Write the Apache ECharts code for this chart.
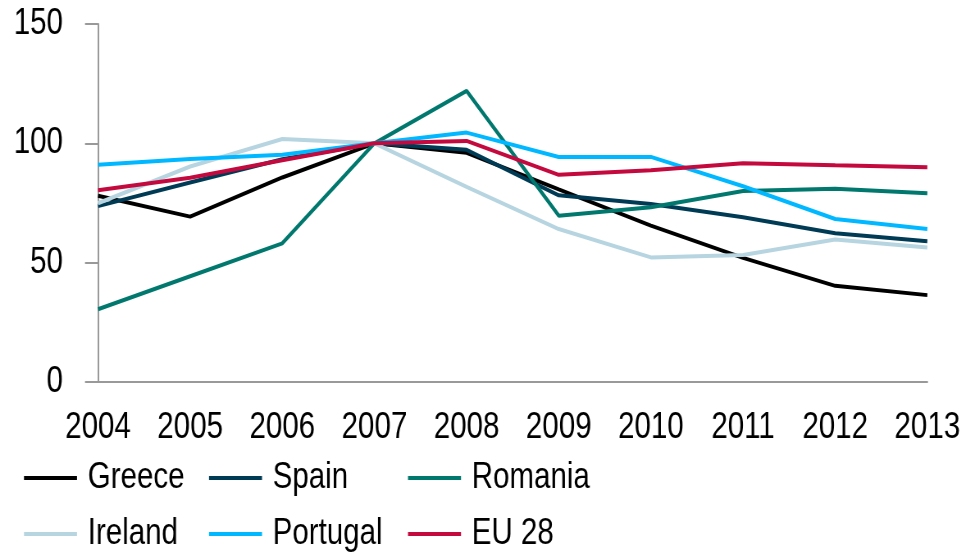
<!DOCTYPE html>
<html>
<head>
<meta charset="utf-8">
<script src="https://cdn.jsdelivr.net/npm/echarts@6/dist/echarts.min.js"></script>
<style>
  html, body { margin: 0; padding: 0; background: #fff; overflow: hidden; }
  #wrap { width: 964px; height: 552px; overflow: hidden; }
  /* narrow text like the original: draw wider, then squeeze horizontally */
  #chart { width: 1176px; height: 552px; transform: scaleX(0.82); transform-origin: 0 0; }
</style>
</head>
<body>
<div id="wrap"><div id="chart"></div></div>
<script>
const years = ['2004', '2005', '2006', '2007', '2008', '2009', '2010', '2011', '2012', '2013']
const greece = [78, 69.3, 85.7, 100, 96, 80.7, 65.5, 52, 40.3, 36.4]
const spain = [73.7, 83.6, 93.3, 100, 97.3, 78.2, 74.6, 69, 62.3, 59]
const romania = [30.5, 44.3, 58.1, 100, 122, 69.7, 73.2, 80, 81, 79.1]
const ireland = [74.9, 90.3, 101.8, 100, 81.8, 64.1, 52.2, 53.2, 59.7, 56.4]
const portugal = [91, 93.4, 95.2, 100, 104.5, 94.3, 94.3, 82, 68.3, 64.1]
const eu28 = [80.3, 85.6, 92.9, 100, 101, 86.8, 88.7, 91.7, 90.8, 90]

const S = 0.82 // horizontal squeeze
const font = "'Liberation Sans', Arial, sans-serif"

function line(name, data, color) {
  return {
    name: name,
    type: 'line',
    data: data,
    symbol: 'none',
    lineStyle: { color: color, width: 4 },
    itemStyle: { color: color },
    emphasis: { disabled: true }
  }
}

function legendCol(left, names) {
  return {
    orient: 'vertical',
    left: left / S,
    top: 460,
    data: names,
    icon: 'rect',
    itemWidth: 53 / S,
    itemHeight: 4,
    itemGap: 20,
    padding: 0,
    textStyle: { fontFamily: font, fontSize: 36, color: '#000', lineHeight: 36, padding: [0, 0, 0, 8] }
  }
}

const chart = echarts.init(document.getElementById('chart'))
chart.setOption({
  animation: false,
  backgroundColor: '#fff',
  grid: { left: 98 / S, right: 37 / S, top: 24, bottom: 170 },
  legend: [
    legendCol(24, ['Greece', 'Ireland']),
    legendCol(209, ['Spain', 'Portugal']),
    legendCol(408, ['Romania', 'EU 28'])
  ],
  xAxis: {
    type: 'category',
    data: years,
    boundaryGap: false,
    axisLine: { show: true, lineStyle: { color: '#999', width: 2 } },
    axisTick: { show: false },
    axisLabel: { fontFamily: font, fontSize: 36, color: '#000', margin: 28, interval: 0 }
  },
  yAxis: {
    type: 'value',
    min: 0,
    max: 150,
    interval: 50,
    splitLine: { show: false },
    axisLine: { show: true, lineStyle: { color: '#999', width: 2 } },
    axisTick: { show: true, length: 13 / S, lineStyle: { color: '#999', width: 2 } },
    axisLabel: { fontFamily: font, fontSize: 36, color: '#000', margin: 35 / S }
  },
  series: [
    line('Greece', greece, '#000000'),
    line('Spain', spain, '#003B55'),
    line('Romania', romania, '#00786E'),
    line('Ireland', ireland, '#B7D5E0'),
    line('Portugal', portugal, '#00B8FF'),
    line('EU 28', eu28, '#C4093E')
  ]
})
</script>
</body>
</html>
